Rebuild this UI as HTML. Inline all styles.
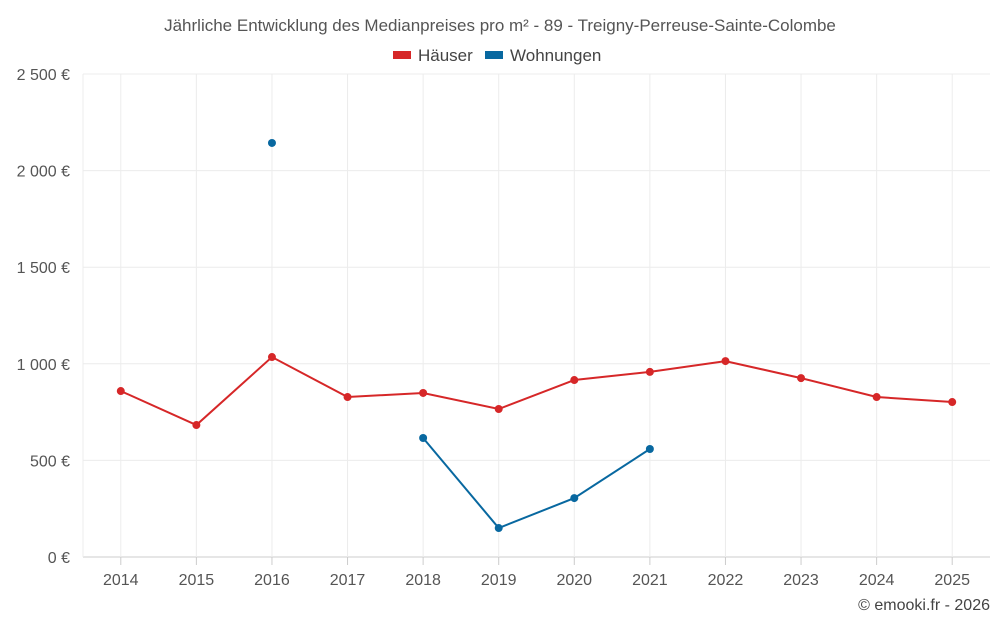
<!DOCTYPE html>
<html><head><meta charset="utf-8"><style>
body{margin:0;background:#fff;font-family:"Liberation Sans",sans-serif;}
svg text{font-family:"Liberation Sans",sans-serif;}
</style></head><body>
<svg id="c" width="1000" height="625">
<text x="500" y="31" text-anchor="middle" font-size="17" fill="#555">Jährliche Entwicklung des Medianpreises pro m² - 89 - Treigny-Perreuse-Sainte-Colombe</text>
<g><rect x="393" y="51" width="18" height="8" fill="#d62728"/><text x="418" y="61" font-size="17" fill="#444">Häuser</text></g>
<g><rect x="485" y="51" width="18" height="8" fill="#0868a0"/><text x="510" y="61" font-size="17" fill="#444">Wohnungen</text></g>
<g id="grid"></g><g id="axes"></g><g id="series"></g>
<text x="990" y="610" text-anchor="end" font-size="16" fill="#444">© emooki.fr - 2026</text>
</svg>
<script>
const years=[2014,2015,2016,2017,2018,2019,2020,2021,2022,2023,2024,2025];
const houses=[859,683,1035,828,849,766,916,958,1014,926,828,802];
const flats=[null,null,2143,null,616,150,305,559,null,null,null,null];
const yTicks=[0,500,1000,1500,2000,2500];
const yLabels=["0 €","500 €","1 000 €","1 500 €","2 000 €","2 500 €"];
const L=83,R=990,T=74,B=557;
const step=(R-L)/years.length;
const x=i=>L+step*(i+0.5);
const y=v=>B-(v/2500)*(B-T);
const NS="http://www.w3.org/2000/svg";
function mk(tag,attrs,parent){const e=document.createElementNS(NS,tag);for(const k in attrs)e.setAttribute(k,attrs[k]);document.getElementById(parent).appendChild(e);return e;}
yTicks.forEach((t,i)=>{
 const g=mk('line',{x1:L,x2:R,y1:y(t),y2:y(t),stroke:t===0?'#ccc':'#ececec'},'grid');
 
 
 const tx=mk('text',{x:70,y:y(t)+6,'text-anchor':'end','font-size':16,fill:'#555'},'axes');
 tx.textContent=yLabels[i];
 
 
});
const lg=mk('line',{x1:L,x2:L,y1:T,y2:B,stroke:'#ececec'},'grid');


years.forEach((yr,i)=>{
 const g=mk('line',{x1:x(i),x2:x(i),y1:T,y2:B,stroke:'#ececec'},'grid');
 
 
 const tk=mk('line',{x1:x(i),x2:x(i),y1:B,y2:B+8,stroke:'#ccc'},'axes');
 
 
 const tx=mk('text',{x:x(i),y:585,'text-anchor':'middle','font-size':16,fill:'#555'},'axes');
 tx.textContent=yr;
 
 
});
function draw(data,color,name){
 let segs=[],cur=[];
 data.forEach((v,i)=>{if(v==null){if(cur.length)segs.push(cur);cur=[];}else cur.push([x(i),y(v)]);});
 if(cur.length)segs.push(cur);
 segs.forEach(s=>{if(s.length>1){const p=mk('polyline',{points:s.map(q=>q.join(',')).join(' '),fill:'none',stroke:color,'stroke-width':2},'series');
  
  }});
 data.forEach((v,i)=>{if(v==null)return;const c=mk('circle',{cx:x(i),cy:y(v),r:4,fill:color},'series');
  
  });
}
draw(houses,'#d62728','haeuser');
draw(flats,'#0868a0','wohnungen');
</script>
</body></html>
